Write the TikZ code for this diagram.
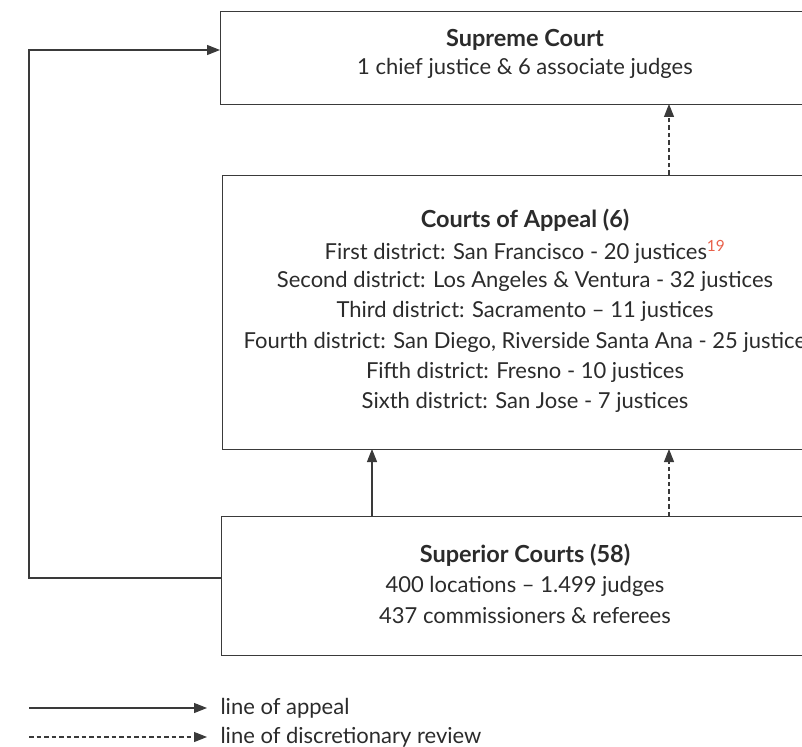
\documentclass[tikz,border=0pt]{standalone}
\usepackage{fontspec}
\setmainfont{Lato}
\usetikzlibrary{arrows.meta}
\definecolor{txt}{HTML}{2B2B2B}
\definecolor{ln}{HTML}{3A3A3A}
\definecolor{sup}{HTML}{E8604A}
\begin{document}
\begin{tikzpicture}[x=1pt,y=-1pt,
  courtbox/.style={draw=ln,line width=1.3pt,rectangle,inner sep=0pt},
  appeal/.style={draw=ln,line width=1.1pt,-{Triangle[length=13pt,width=10pt]}},
  review/.style={appeal,dash pattern=on 4.5pt off 3pt},
  lbl/.style={text=txt,font=\fontsize{22}{26}\selectfont,anchor=center},
  ttl/.style={lbl,font=\fontsize{23.5}{26}\selectfont\bfseries}]
\useasboundingbox (0,0) rectangle (802,746);
\begin{scope}
\clip (0,0) rectangle (802,746);
\node[courtbox,minimum width=610pt,minimum height=93pt,anchor=north west] (sc) at (220,11) {};
\node[courtbox,minimum width=608pt,minimum height=274pt,anchor=north west] (ca) at (222,175) {};
\node[courtbox,minimum width=609pt,minimum height=139pt,anchor=north west] (su) at (221,516) {};
\end{scope}
\node[ttl] (sct) at (525,40) {Supreme Court};
\node[lbl] (scl) at (525,68) {1 chief justice \& 6 associate judges};
\node[ttl] (cat) at (525,220) {Courts of Appeal (6)};
\node[lbl] (ca1) at (525,252) {First district: San Francisco - 20 justices\textcolor{sup}{\textsuperscript{19}}};
\node[lbl] (ca2) at (525,281) {Second district: Los Angeles \& Ventura - 32 justices};
\node[lbl] (ca3) at (525,311) {Third district: Sacramento – 11 justices};
\node[lbl,anchor=west] (ca4) at (240,342) {Fourth district: San Diego, Riverside Santa Ana - 25 justices};
\node[lbl] (ca5) at (525,372) {Fifth district: Fresno - 10 justices};
\node[lbl] (ca6) at (525,402) {Sixth district: San Jose - 7 justices};
\node[ttl] (sut) at (525,555) {Superior Courts (58)};
\node[lbl] (su1) at (525,586) {400 locations – 1.499 judges};
\node[lbl] (su2) at (525,616) {437 commissioners \& referees};
\coordinate (bl) at (29,578);
\coordinate (tl) at (29,50);
\draw[appeal] (su.west |- bl) -- (bl) -- (tl) -- (sc.west |- tl);
\draw[appeal] (372,516) -- (372,449);
\draw[review] (669,516) -- (669,449);
\draw[review] (669,175) -- (669,104);
\coordinate (l1a) at (29,708);
\coordinate (l1b) at (207,708);
\coordinate (l2a) at (29,737);
\coordinate (l2b) at (207,737);
\draw[appeal] (l1a) -- (l1b);
\draw[review] (l2a) -- (l2b);
\node[lbl,anchor=west] (lg1) at (217,708) {line of appeal};
\node[lbl,anchor=west] (lg2) at (217,737) {line of discretionary review};
\end{tikzpicture}
\end{document}
